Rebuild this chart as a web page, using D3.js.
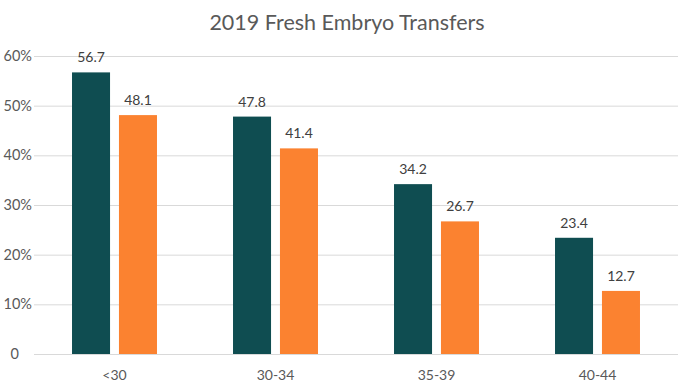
<!DOCTYPE html>
<html>
<head>
<meta charset="utf-8">
<script src="https://cdn.jsdelivr.net/npm/d3@7"></script>
<style>
  body { margin: 0; background: #fff; }
  text { font-family: Lato, "Open Sans", sans-serif; }
</style>
</head>
<body>
<div id="chart"></div>
<script>
var categories = ["<30", "30-34", "35-39", "40-44"];
var seriesA = [56.7, 47.8, 34.2, 23.4];
var seriesB = [48.1, 41.4, 26.7, 12.7];
var yTicks = [0, 10, 20, 30, 40, 50, 60];

function init() {
    var w = 693;
    var h = 387;
    var left = 34, right = 678, top = 56, bottom = 354;

    var svg = d3.select("#chart")
        .append("svg")
        .attr("width", w)
        .attr("height", h);

    var data = categories.map(function (c, i) {
        return { cat: c, vals: [seriesA[i], seriesB[i]] };
    });

    var x0 = d3.scaleBand().domain(categories).range([left, right]).padding(0);
    var x1 = d3.scaleBand().domain([0, 1]).range([0, x0.bandwidth()])
        .paddingInner(0.19).paddingOuter(0.81);
    var y = d3.scaleLinear().domain([0, 60]).range([bottom, top]);
    var colors = ["#0f4d51", "#fb8230"];

    // gridlines
    svg.selectAll("line.grid")
        .data(yTicks)
        .enter()
        .append("line")
        .attr("x1", left)
        .attr("x2", right)
        .attr("y1", function (d) { return y(d) + 0.5; })
        .attr("y2", function (d) { return y(d) + 0.5; })
        .attr("stroke", "#d9d9d9")
        .attr("stroke-width", 1);

    // y labels
    svg.selectAll("text.ytick")
        .data(yTicks)
        .enter()
        .append("text")
        .attr("x", function (d) { return d === 0 ? 19 : 32; })
        .attr("y", function (d) { return y(d) + 5; })
        .attr("text-anchor", "end")
        .attr("font-size", "14.5px")
        .attr("fill", "#595959")
        .text(function (d) { return d === 0 ? "0" : d + "%"; });

    var groups = svg.selectAll("g.cat")
        .data(data)
        .enter()
        .append("g")
        .attr("transform", function (d) { return "translate(" + x0(d.cat) + ",0)"; });

    groups.selectAll("rect")
        .data(function (d) { return d.vals; })
        .enter()
        .append("rect")
        .attr("x", function (d, i) { return x1(i); })
        .attr("y", function (d) { return y(d); })
        .attr("width", x1.bandwidth())
        .attr("height", function (d) { return bottom - y(d); })
        .attr("fill", function (d, i) { return colors[i]; });

    groups.selectAll("text.val")
        .data(function (d) { return d.vals; })
        .enter()
        .append("text")
        .attr("x", function (d, i) { return x1(i) + x1.bandwidth() / 2; })
        .attr("y", function (d) { return y(d) - 10; })
        .attr("text-anchor", "middle")
        .attr("font-size", "14px")
        .attr("fill", "#404040")
        .text(function (d) { return d.toFixed(1); });

    // x labels
    svg.selectAll("text.xlab")
        .data(categories)
        .enter()
        .append("text")
        .attr("x", function (d) { return x0(d) + x0.bandwidth() / 2; })
        .attr("y", 380)
        .attr("text-anchor", "middle")
        .attr("font-size", "14px")
        .attr("fill", "#595959")
        .text(function (d) { return d; });

    svg.append("text")
        .attr("x", 347)
        .attr("y", 30)
        .attr("text-anchor", "middle")
        .attr("font-size", "21.5px")
        .attr("fill", "#595959")
        .text("2019 Fresh Embryo Transfers");
}
window.onload = init;
</script>
</body>
</html>
